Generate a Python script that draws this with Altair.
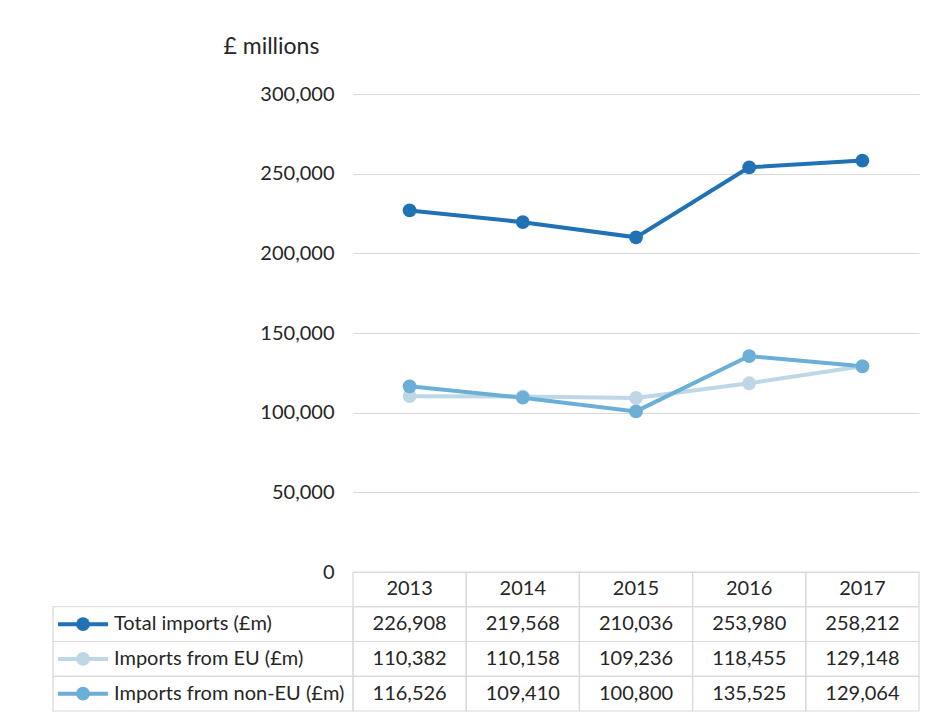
import altair as alt
import pandas as pd

years = ["2013", "2014", "2015", "2016", "2017"]
series = ["Total imports (£m)", "Imports from EU (£m)", "Imports from non-EU (£m)"]
total = [226908, 219568, 210036, 253980, 258212]
eu = [110382, 110158, 109236, 118455, 129148]
non_eu = [116526, 109410, 100800, 135525, 129064]
colors = ["#2171b5", "#bdd7e7", "#6baed6"]
y_ticks = [0, 50000, 100000, 150000, 200000, 250000, 300000]

FONT = "Lato"
FS = 20
TXT = "#262626"
GRID = "#d9d9d9"

rows = []
for s, vals in zip(series, [total, eu, non_eu]):
    for yr, v in zip(years, vals):
        rows.append({"series": s, "year": yr, "value": v})
df = pd.DataFrame(rows)

HEADER = "header"
row_order = [HEADER] + series
tbl = pd.DataFrame(
    [{"row": HEADER, "year": yr, "text": yr} for yr in years]
    + [{"row": r["series"], "year": r["year"], "text": f"{r['value']:,}"} for r in rows]
)
keys = pd.DataFrame({"row": series})

PW, PH, TH, LW = 566, 478, 139, 300

series_scale = alt.Scale(domain=series, range=colors)

x_enc = alt.X("year:N", axis=None, scale=alt.Scale(domain=years))
y_enc = alt.Y(
    "value:Q",
    scale=alt.Scale(domain=[0, 300000], nice=False),
    axis=alt.Axis(
        values=y_ticks, format=",.0f", title="£ millions", titleAngle=0,
        titleAlign="left", titleBaseline="middle", titleX=-130, titleY=-48,
        titleFont=FONT, titleFontSize=23, titleFontWeight="normal", titleColor=TXT,
        labelFont=FONT, labelFontSize=FS, labelColor=TXT, labelPadding=19,
        ticks=False, domain=False, grid=True, gridColor=GRID, gridWidth=1.2,
    ),
)

line_layer = alt.Chart(df).mark_line(strokeWidth=4).encode(
    x=x_enc, y=y_enc,
    color=alt.Color("series:N", scale=series_scale, legend=None),
)
dot_layer = alt.Chart(df).mark_circle(size=190, opacity=1).encode(
    x=x_enc, y=y_enc,
    color=alt.Color("series:N", scale=series_scale, legend=None),
)
lines = alt.layer(line_layer, dot_layer).properties(width=PW, height=PH)

spacer = alt.Chart(pd.DataFrame({"v": [0]})).mark_point(opacity=0).properties(width=LW, height=PH)

row_scale = alt.Scale(domain=row_order, type="band", paddingInner=0, paddingOuter=0)
year_scale = alt.Scale(domain=years, type="band", paddingInner=0, paddingOuter=0)
row_y = alt.Y("row:N", scale=row_scale, axis=None)

# legend column of the data table
key_boxes = alt.Chart(keys).mark_rect(fill="transparent", stroke=GRID, strokeWidth=1.2).encode(
    y=row_y, x=alt.value(0), x2=alt.value("width"),
)
key_lines = alt.Chart(keys).mark_rule(strokeWidth=4).encode(
    y=row_y, x=alt.value(5), x2=alt.value(55),
    color=alt.Color("row:N", scale=series_scale, legend=None),
)
key_dots = alt.Chart(keys).mark_circle(size=190, opacity=1).encode(
    y=row_y, x=alt.value(30),
    color=alt.Color("row:N", scale=series_scale, legend=None),
)
key_text = alt.Chart(keys).mark_text(font=FONT, fontSize=FS, color=TXT, align="left").encode(
    y=row_y, x=alt.value(61), text="row:N",
)
labels_panel = alt.layer(key_boxes, key_lines, key_dots, key_text).properties(width=LW, height=TH)

cells = alt.Chart(tbl).mark_rect(fill="transparent", stroke=GRID, strokeWidth=1.2).encode(
    x=alt.X("year:N", scale=year_scale, axis=None),
    y=row_y,
)
texts = alt.Chart(tbl).mark_text(font=FONT, fontSize=FS, color=TXT).encode(
    x=alt.X("year:N", scale=year_scale, axis=None),
    y=row_y,
    text="text:N",
)
values_panel = alt.layer(cells, texts).properties(width=PW, height=TH)

chart = alt.concat(
    spacer, lines, labels_panel, values_panel,
    columns=2, spacing=0, bounds="flush", align="each",
).properties(
    padding={"left": 44, "top": 27, "right": 5, "bottom": 0},
    background="white",
).configure_view(strokeWidth=0, stroke="transparent")

chart.save("out.html", embed_options={"renderer": "svg", "actions": False})
